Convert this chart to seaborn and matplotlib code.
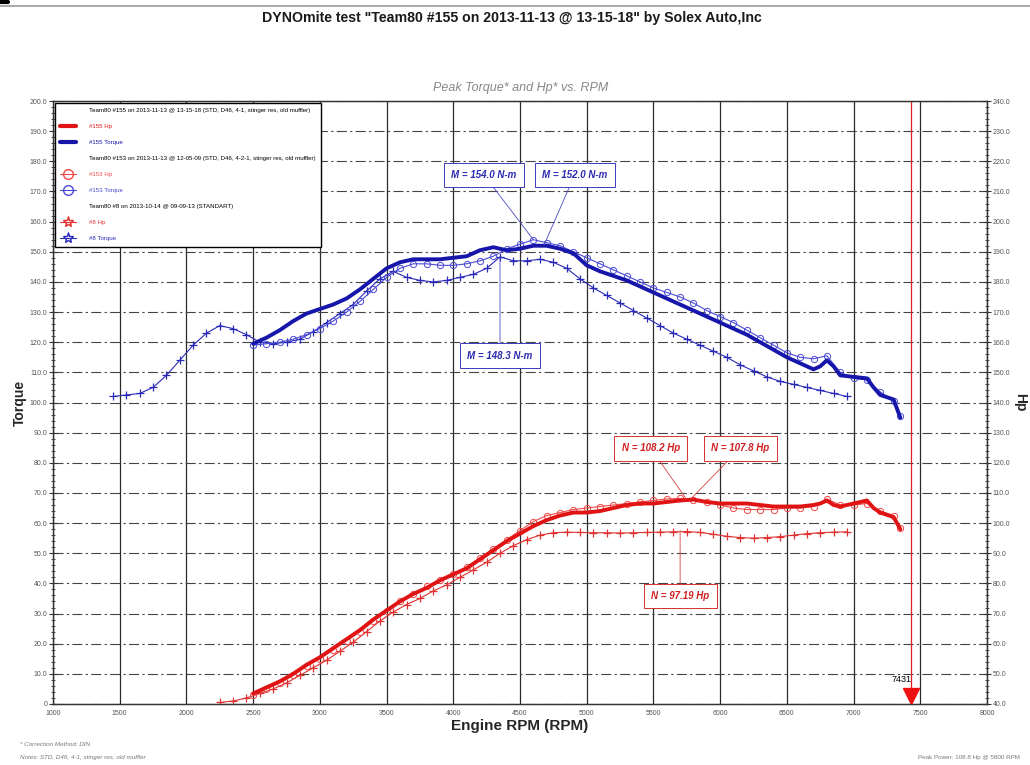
import matplotlib
matplotlib.use("Agg")
import matplotlib.pyplot as plt
import seaborn as sns
from matplotlib.lines import Line2D
from matplotlib.ticker import MultipleLocator, FuncFormatter

# ---------------- data ----------------
rpm_155 = [2500, 2600, 2700, 2800, 2900, 3000, 3100, 3200, 3300, 3400,
           3500, 3600, 3700, 3800, 3900, 4000, 4100, 4200, 4300, 4400,
           4500, 4600, 4700, 4800, 4900, 5000, 5100, 5200, 5300, 5400,
           5500, 5600, 5700, 5800, 5900, 6000, 6100, 6200, 6300, 6400,
           6500, 6600, 6700, 6750, 6800, 6850, 6900, 7000, 7100, 7150,
           7200, 7300, 7350]
torque_155 = [119.5, 121.5, 124.0, 127.0, 129.5, 131.0, 132.5, 134.5, 137.5, 141.0,
              144.5, 146.5, 147.5, 147.5, 147.5, 148.0, 148.5, 150.5, 151.5, 150.5,
              151.0, 152.0, 152.0, 151.0, 149.5, 145.5, 143.5, 142.0, 140.5, 138.5,
              136.5, 134.5, 132.5, 130.5, 128.5, 126.5, 124.5, 122.5, 120.0, 117.5,
              115.0, 113.0, 111.0, 112.0, 114.0, 112.0, 109.0, 108.5, 108.0, 105.0,
              102.5, 101.0, 95.0]
hp_155 = [43.5, 45.5, 47.5, 50.0, 53.0, 55.5, 58.5, 61.5, 64.5, 68.0,
          71.0, 74.0, 76.5, 78.5, 81.0, 83.0, 85.0, 88.0, 91.0, 94.0,
          96.5, 99.0, 101.0, 102.5, 103.5, 103.5, 104.0, 105.0, 106.0, 106.5,
          106.5, 107.0, 107.5, 107.8, 107.0, 106.5, 106.5, 106.5, 106.0, 105.5,
          105.5, 105.5, 106.0, 106.5, 107.5, 106.0, 105.5, 106.5, 107.5, 105.0,
          103.5, 102.0, 98.0]

rpm_153 = [2500, 2600, 2700, 2800, 2900, 3000, 3100, 3200, 3300, 3400,
           3500, 3600, 3700, 3800, 3900, 4000, 4100, 4200, 4300, 4400,
           4500, 4600, 4700, 4800, 4900, 5000, 5100, 5200, 5300, 5400,
           5500, 5600, 5700, 5800, 5900, 6000, 6100, 6200, 6300, 6400,
           6500, 6600, 6700, 6800, 6900, 7000, 7100, 7200, 7300, 7350]
torque_153 = [119.0, 119.5, 120.0, 121.0, 122.5, 124.5, 127.0, 130.0, 133.5, 137.5,
              141.5, 144.5, 146.0, 146.0, 145.5, 145.5, 146.0, 147.0, 148.5, 151.0,
              152.5, 154.0, 153.0, 152.0, 150.0, 148.0, 146.0, 144.0, 142.0, 140.0,
              138.0, 136.5, 135.0, 133.0, 130.5, 128.5, 126.5, 124.0, 121.5, 119.0,
              116.5, 115.0, 114.5, 115.5, 110.0, 108.0, 107.5, 103.5, 100.5, 95.5]
hp_153 = [43.0, 45.0, 47.0, 49.5, 52.5, 55.0, 58.0, 61.0, 64.0, 67.5,
          71.0, 74.0, 76.5, 79.0, 81.0, 83.0, 85.5, 88.5, 91.5, 94.5,
          97.5, 100.5, 102.5, 103.5, 104.5, 105.0, 105.5, 106.0, 106.5, 107.0,
          107.5, 108.0, 108.2, 107.5, 107.0, 106.0, 105.0, 104.5, 104.5, 104.5,
          105.0, 105.0, 105.5, 108.0, 106.0, 106.0, 106.5, 104.0, 102.5, 98.5]

rpm_8_torque = [1450, 1550, 1650, 1750, 1850, 1950, 2050, 2150, 2250, 2350,
                2450, 2550, 2650, 2750, 2850, 2950, 3050, 3150, 3250, 3350,
                3450, 3550, 3650, 3750, 3850, 3950, 4050, 4150, 4250, 4350,
                4450, 4550, 4650, 4750, 4850, 4950, 5050, 5150, 5250, 5350,
                5450, 5550, 5650, 5750, 5850, 5950, 6050, 6150, 6250, 6350,
                6450, 6550, 6650, 6750, 6850, 6950]
torque_8 = [102.0, 102.5, 103.0, 105.0, 109.0, 114.0, 119.0, 123.0, 125.5, 124.5,
            122.5, 120.0, 119.5, 120.0, 121.0, 123.5, 126.5, 129.5, 132.5, 137.0,
            141.0, 143.5, 141.5, 140.5, 140.0, 140.5, 141.5, 142.5, 144.5, 148.3,
            147.0, 147.0, 147.5, 146.5, 144.5, 141.0, 138.0, 135.5, 133.0, 130.5,
            128.0, 125.5, 123.0, 121.0, 119.0, 117.0, 115.0, 112.5, 110.5, 108.5,
            107.0, 106.0, 105.0, 104.0, 103.0, 102.0]

rpm_8_hp = [2250, 2350, 2450, 2550, 2650, 2750, 2850, 2950, 3050, 3150,
            3250, 3350, 3450, 3550, 3650, 3750, 3850, 3950, 4050, 4150,
            4250, 4350, 4450, 4550, 4650, 4750, 4850, 4950, 5050, 5150,
            5250, 5350, 5450, 5550, 5650, 5750, 5850, 5950, 6050, 6150,
            6250, 6350, 6450, 6550, 6650, 6750, 6850, 6950]
hp_8 = [40.5, 41.0, 42.0, 43.5, 45.0, 47.0, 49.5, 52.0, 54.5, 57.5,
        60.5, 64.0, 67.5, 70.5, 73.0, 75.0, 77.5, 79.5, 82.0, 84.5,
        87.0, 90.0, 92.5, 94.5, 96.0, 96.8, 97.0, 96.9, 96.8, 96.8,
        96.7, 96.8, 96.9, 97.0, 97.1, 97.19, 96.9, 96.3, 95.6, 95.2,
        95.0, 95.2, 95.5, 96.0, 96.5, 96.8, 97.0, 97.1]

x_ticks = [1000, 1500, 2000, 2500, 3000, 3500, 4000, 4500,
           5000, 5500, 6000, 6500, 7000, 7500, 8000]
peak_marker_rpm = 7431

# peak annotations: (text, rpm, value, box rpm, box value)
torque_peaks = [("M = 154.0 N-m", 4600, 154.0, 4230, 175.5),
                ("M = 152.0 N-m", 4680, 152.2, 4910, 175.5),
                ("M = 148.3 N-m", 4350, 148.3, 4350, 115.5)]
hp_peaks = [("N = 108.2 Hp", 5740, 108.4, 5480, 124.8),
            ("N = 107.8 Hp", 5780, 108.0, 6150, 124.8),
            ("N = 97.19 Hp", 5700, 97.5, 5700, 75.8)]

# ---------------- style ----------------
sns.set_style("white")
plt.rcParams['font.family'] = ['Liberation Sans', 'DejaVu Sans']

BLUE_THICK = "#1616aa"
BLUE_CIRC = "#4a4ad8"
BLUE_STAR = "#2a2ab8"
RED_THICK = "#e01414"
RED_CIRC = "#f04848"
RED_STAR = "#e03030"
TICKGRAY = "#555555"

fig = plt.figure(figsize=(10.3, 7.65), dpi=100)
ax = fig.add_axes([53 / 1030, 1 - 704 / 765, 934 / 1030, 603 / 765])
ax2 = ax.twinx()

# torque curves (left axis)
sns.lineplot(x=rpm_8_torque, y=torque_8, ax=ax, color=BLUE_STAR, linewidth=0.8,
             marker='+', markersize=5.5, markeredgewidth=0.9,
             markeredgecolor=BLUE_STAR, sort=False)
sns.lineplot(x=rpm_153, y=torque_153, ax=ax, color=BLUE_CIRC, linewidth=0.8,
             marker='o', markersize=4.5, markerfacecolor='none',
             markeredgecolor=BLUE_CIRC, markeredgewidth=0.7, sort=False)
sns.lineplot(x=rpm_155, y=torque_155, ax=ax, color=BLUE_THICK, linewidth=2.8, sort=False)

# power curves (right axis)
sns.lineplot(x=rpm_8_hp, y=hp_8, ax=ax2, color=RED_STAR, linewidth=0.8,
             marker='+', markersize=5.5, markeredgewidth=0.9,
             markeredgecolor=RED_STAR, sort=False)
sns.lineplot(x=rpm_153, y=hp_153, ax=ax2, color=RED_CIRC, linewidth=0.8,
             marker='o', markersize=4.5, markerfacecolor='none',
             markeredgecolor=RED_CIRC, markeredgewidth=0.7, sort=False)
sns.lineplot(x=rpm_155, y=hp_155, ax=ax2, color=RED_THICK, linewidth=2.8, sort=False)

# axes limits / ticks
ax.set_xlim(1000, 8000)
ax.set_ylim(0, 200)
ax2.set_ylim(40, 240)
ax.set_xticks(x_ticks)
ax.set_xticklabels([str(t) for t in x_ticks])
ax.xaxis.set_minor_locator(MultipleLocator(100))
ax.yaxis.set_major_locator(MultipleLocator(10))
ax.yaxis.set_minor_locator(MultipleLocator(2))
ax2.yaxis.set_major_locator(MultipleLocator(10))
ax2.yaxis.set_minor_locator(MultipleLocator(2))
fmt = FuncFormatter(lambda v, p: "0" if v == 0 else f"{v:.1f}")
ax.yaxis.set_major_formatter(fmt)
ax2.yaxis.set_major_formatter(FuncFormatter(lambda v, p: f"{v:.1f}"))

for a in (ax, ax2):
    a.tick_params(which='major', direction='inout', length=6, width=0.8,
                  labelsize=5, labelcolor=TICKGRAY, color='#333333', pad=1)
    a.tick_params(which='minor', direction='inout', length=3, width=0.6,
                  color='#333333')

for s in ax.spines.values():
    s.set_color('#333333'); s.set_linewidth(0.9)
for s in ax2.spines.values():
    s.set_color('#333333'); s.set_linewidth(0.9)

# grid
ax.grid(False); ax2.grid(False)
ax.xaxis.grid(True, which='major', color='#2a2a2a', linewidth=0.9)
ax.yaxis.grid(True, which='major', color='#444444', linewidth=0.8,
              linestyle=(0, (9, 3, 2, 3)))
ax.set_axisbelow(True)

ax.set_xlabel("Engine RPM (RPM)", fontsize=11, fontweight='bold', labelpad=2)
ax.set_ylabel("Torque", fontsize=10, fontweight='bold', labelpad=2)
ax2.set_ylabel("Hp", fontsize=10, fontweight='bold', rotation=270, labelpad=12)

# peak rpm marker
ax.axvline(peak_marker_rpm, color='#e02020', linewidth=0.9, zorder=3)
ax.plot([peak_marker_rpm], [2.8], marker='v', markersize=11, color='#ee1111',
        clip_on=False, zorder=5)
ax.annotate(str(peak_marker_rpm), xy=(peak_marker_rpm, 2.8), xytext=(-14, 10),
            textcoords='offset points', fontsize=6.5, color='black')

# peak annotations
for txt, xr, yv, bx, by in torque_peaks:
    ax.annotate(txt, xy=(xr, yv), xytext=(bx, by), ha='center', va='center',
                fontsize=7, fontstyle='italic', fontweight='bold', color='#2a2ab0',
                bbox=dict(boxstyle='square,pad=0.75', fc='white', ec='#3a3ac0', lw=0.7),
                arrowprops=dict(arrowstyle='-', color='#4a4ac0', lw=0.6,
                                shrinkA=0, shrinkB=0), zorder=6)
for txt, xr, yv, bx, by in hp_peaks:
    ax2.annotate(txt, xy=(xr, yv), xytext=(bx, by), ha='center', va='center',
                 fontsize=7, fontstyle='italic', fontweight='bold', color='#d02020',
                 bbox=dict(boxstyle='square,pad=0.75', fc='white', ec='#d83030', lw=0.7),
                 arrowprops=dict(arrowstyle='-', color='#d84040', lw=0.6,
                                 shrinkA=0, shrinkB=0), zorder=6)

# legend
blank = Line2D([], [], linestyle='none')
handles = [blank,
           Line2D([], [], color=RED_THICK, lw=3),
           Line2D([], [], color=BLUE_THICK, lw=3),
           blank,
           Line2D([], [], color=RED_CIRC, lw=0.8, marker='o', ms=7, mfc='none'),
           Line2D([], [], color=BLUE_CIRC, lw=0.8, marker='o', ms=7, mfc='none'),
           blank,
           Line2D([], [], color=RED_STAR, lw=0.8, marker='*', ms=8, mfc='none'),
           Line2D([], [], color=BLUE_STAR, lw=0.8, marker='*', ms=8, mfc='none')]
labels = ["Team80 #155 on 2013-11-13 @ 13-15-18 (STD, D46, 4-1, stinger res, old muffler)",
          "#155 Hp", "#155 Torque",
          "Team80 #153 on 2013-11-13 @ 12-05-09 (STD, D46, 4-2-1, stinger res, old muffler)",
          "#153 Hp", "#153 Torque",
          "Team80 #8 on 2013-10-14 @ 09-09-13 (STANDART)",
          "#8 Hp", "#8 Torque"]
leg = ax2.legend(handles, labels, loc='upper left', bbox_to_anchor=(0.0, 1.0),
                 fontsize=4.4, frameon=True, fancybox=False, framealpha=1,
                 edgecolor='black', labelspacing=1.75, handlelength=2.6,
                 handletextpad=2.2, borderpad=0.9, borderaxespad=0.25)
leg.get_frame().set_linewidth(1.0)
text_colors = ['black', RED_THICK, BLUE_THICK, 'black', RED_CIRC, BLUE_CIRC,
               'black', RED_STAR, BLUE_STAR]
for t, c in zip(leg.get_texts(), text_colors):
    t.set_color(c)
leg.set_zorder(10)

# titles and notes
fig.text(0.497, 1 - 18 / 765, 'DYNOmite test "Team80 #155 on 2013-11-13 @ 13-15-18" by Solex Auto,Inc',
         ha='center', va='center', fontsize=10.2, fontweight='bold', color='#1a1a1a')
fig.text(0.505, 1 - 88 / 765, "Peak Torque* and Hp* vs. RPM", ha='center', va='center',
         fontsize=9, fontstyle='italic', color='#888888')
fig.text(20 / 1030, 1 - 745 / 765, "* Correction Method: DIN", ha='left', va='center',
         fontsize=4.5, fontstyle='italic', color='#777777')
fig.text(20 / 1030, 1 - 758 / 765, "Notes: STD, D46, 4-1, stinger res, old muffler",
         ha='left', va='center', fontsize=4.5, fontstyle='italic', color='#777777')
fig.text(1020 / 1030, 1 - 758 / 765, "Peak Power: 108.8 Hp @ 5800 RPM", ha='right',
         va='center', fontsize=4.5, color='#777777')
fig.add_artist(Line2D([0, 1], [1 - 6 / 765, 1 - 6 / 765], transform=fig.transFigure,
                      color='#999999', linewidth=1.2))
fig.add_artist(Line2D([0, 8 / 1030], [1 - 2 / 765, 1 - 2 / 765], transform=fig.transFigure,
                      color='black', linewidth=3))

fig.savefig("out.png", dpi=100, facecolor='white')
